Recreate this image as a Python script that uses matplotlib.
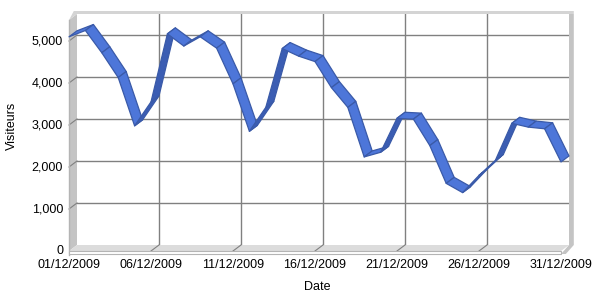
import matplotlib
matplotlib.use("Agg")
import matplotlib.pyplot as plt
from matplotlib.patches import Polygon
import numpy as np

plt.rcParams['font.family'] = ['Liberation Sans', 'DejaVu Sans']

# --- donnees ---
days = list(range(1, 32))
visits = [5100, 5250, 4720, 4130, 2980, 3550, 5170, 4880, 5100, 4830,
          3980, 2850, 3420, 4820, 4640, 4510, 3890, 3420, 2240, 2350,
          3160, 3140, 2510, 1610, 1390, 1800, 2160, 3040, 2950, 2910, 2120]
tick_days = [1, 6, 11, 16, 21, 26, 31]
tick_labels = ["01/12/2009", "06/12/2009", "11/12/2009", "16/12/2009",
               "21/12/2009", "26/12/2009", "31/12/2009"]
y_ticks = [0, 1000, 2000, 3000, 4000, 5000]
y_labels = ["0", "1,000", "2,000", "3,000", "4,000", "5,000"]

TOP = "#4d76d9"
SIDE = "#3b5db3"
EDGE = "#3a5aa8"
GRID = "#808080"

fig = plt.figure(figsize=(6, 3), dpi=100)
ax = fig.add_axes([77 / 600, 55 / 300, 492 / 600, 231 / 300])
ax.set_xlim(1, 31)
ax.set_ylim(0, 5500)
ax.set_facecolor("white")
for s in ax.spines.values():
    s.set_visible(False)
ax.set_xticks([])
ax.set_yticks([])

# profondeur 3D : 8 px vers la gauche, 6 px vers le bas
inv = ax.transData.inverted()
o = ax.transData.transform((1, 0))
dx, dy = inv.transform(o + np.array([-8, -6])) - np.array([1, 0])
px_y = (inv.transform(o + np.array([0, 1])) - np.array([1, 0]))[1]
x0, x1, y0, y1 = 1, 31, 0, 5500


def poly(pts, **kw):
    ax.add_patch(Polygon(pts, closed=True, clip_on=False, **kw))


# grille du mur du fond
for v in y_ticks[1:]:
    ax.plot([x0, x1], [v, v], color=GRID, lw=1, zorder=1, clip_on=False)
    ax.plot([x0 + dx, x0], [v + dy, v], color=GRID, lw=0.8, zorder=3, clip_on=False)
for d in tick_days[1:-1]:
    ax.plot([d, d], [y0, y1], color=GRID, lw=1, zorder=1, clip_on=False)
    ax.plot([d + dx, d], [y0 + dy, y0], color=GRID, lw=0.8, zorder=3, clip_on=False)

# mur gauche
poly([(x0, y0), (x0, y1), (x0 + dx, y1 + dy), (x0 + dx, y0 + dy)],
     facecolor="#c4c4c4", edgecolor="none", zorder=2)
ax.plot([x0 + dx, x0 + dx], [y0 + dy - 4 * px_y, y1 + dy], color="#b4b4b4", lw=1,
        zorder=3, clip_on=False)
# sol
poly([(x0, y0), (x1, y0), (x1 + dx, y0 + dy), (x0 + dx, y0 + dy)],
     facecolor="#dcdcdc", edgecolor="none", zorder=2)
poly([(x0 + dx, y0 + dy), (x1 + dx, y0 + dy), (x1 + dx, y0 + dy - 3 * px_y),
      (x0 + dx, y0 + dy - 3 * px_y)],
     facecolor="white", edgecolor="#b4b4b4", lw=0.8, zorder=3)
# epaisseur du mur du fond (haut et droite)
wx = -dx * 0.6
poly([(x0 + dx, y1 + dy), (x0, y1), (x1 + wx, y1), (x1 + wx, y1 + 3 * px_y),
      (x0 + dx * 0.4, y1 + 3 * px_y)],
     facecolor="#d4d4d4", edgecolor="none", zorder=2)
poly([(x1, y1), (x1 + wx, y1), (x1 + wx, y0), (x1 + dx + wx, y0 + dy - 3 * px_y),
      (x1 + dx, y0 + dy - 3 * px_y), (x1, y0)],
     facecolor="#c4c4c4", edgecolor="none", zorder=2)

# ruban 3D
for i in range(len(days) - 1):
    xa, ya, xb, yb = days[i], visits[i], days[i + 1], visits[i + 1]
    pa = ax.transData.transform((xa, ya))
    pb = ax.transData.transform((xb, yb))
    seg = pb - pa
    cross = seg[0] * (-6) - seg[1] * (-8)
    col = TOP if cross < 0 else SIDE
    poly([(xa, ya), (xb, yb), (xb + dx, yb + dy), (xa + dx, ya + dy)],
         facecolor=col, edgecolor=EDGE, lw=0.9, joinstyle="round", zorder=5)

# etiquettes
for v, lab in zip(y_ticks, y_labels):
    ax.annotate(lab, xy=(x0 + dx, v + dy), xytext=(-6, 0), textcoords="offset pixels",
                ha="right", va="center", fontsize=9, annotation_clip=False)
for d, lab in zip(tick_days, tick_labels):
    ax.annotate(lab, xy=(d + dx, y0 + dy), xytext=(0, -8), textcoords="offset pixels",
                ha="center", va="top", fontsize=9, annotation_clip=False)

fig.text(317 / 600, 1 - 287 / 300, "Date", ha="center", va="center", fontsize=9)
fig.text(12 / 600, 1 - 126 / 300, "Visiteurs", ha="center", va="center",
         rotation=90, fontsize=9)

fig.savefig("out.png", dpi=100)
